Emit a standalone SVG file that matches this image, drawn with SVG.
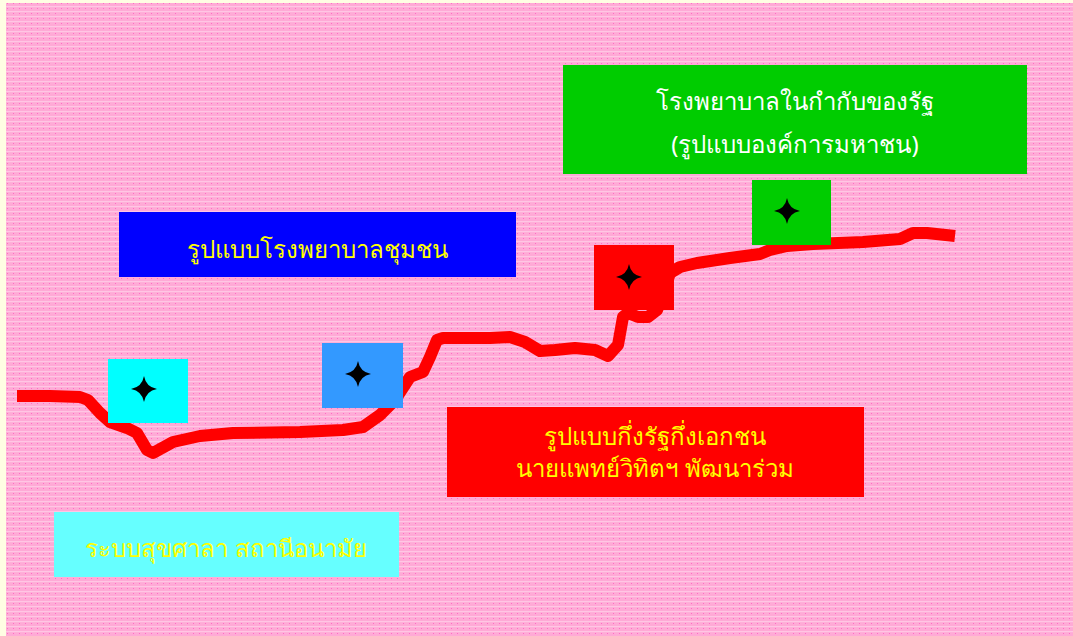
<svg xmlns="http://www.w3.org/2000/svg" width="1073" height="636" viewBox="0 0 1073 636">
<defs>
<pattern id="bg" x="0" y="0" width="6" height="5" patternUnits="userSpaceOnUse">
<rect width="6" height="5" fill="#ffaad6"/>
<rect y="1" width="6" height="1.2" fill="#ffc6e4"/>
<rect x="1" y="3" width="1" height="1" fill="#ff6cc6"/>
</pattern>
<path id="star" d="M0,-13 Q2,-2 13,0 Q2,2 0,13 Q-2,2 -13,0 Q-2,-2 0,-13 Z"/>
</defs>
<style>
.lbl{font-family:"Noto Sans","Liberation Sans",sans-serif;font-size:24px;text-anchor:middle;fill:#ffff00}
.wht{fill:#ffffff}
.star{fill:#000000}
</style>
<rect width="1073" height="636" fill="#fffde3"/>
<rect x="6" y="3" width="1067" height="633" fill="url(#bg)"/>
<g id="connectors">
<path d="M17,396 L50,396 L80,397 L88,400 L100,413 L110,422 L127,428 L137,433 L147,450 L153,453 L173,442 L200,436 L233,433 L300,432 L343,430 L363,427 L380,415 L395,400 L410,377 L423,372 L430,357 L437,340 L443,338 L490,338 L510,337 L525,342 L540,351 L555,350 L575,348 L595,350 L608,356 L618,345 L623,317 L628,313 L638,317 L648,317 L657,310 L662,297 L670,273 L680,267 L697,263 L730,258 L760,254 L770,250 L787,246 L813,244 L863,242 L900,239 L913,233 L927,233 L955,236" fill="none" stroke="#ff0000" stroke-width="12" stroke-linejoin="round"/>
</g>
<g id="m1"><rect x="108" y="359" width="80" height="64" fill="#00ffff"/><use href="#star" x="144" y="389" class="star"/></g>
<g id="m2"><rect x="322" y="343" width="81" height="65" fill="#3399ff"/><use href="#star" x="358" y="374" class="star"/></g>
<g id="m3"><rect x="594" y="245" width="80" height="65" fill="#ff0000"/><use href="#star" x="629" y="277" class="star"/></g>
<g id="m4"><rect x="752" y="180" width="79" height="65" fill="#00cc00"/><use href="#star" x="787" y="211" class="star"/></g>
<g id="n-green"><rect x="563" y="65" width="464" height="109" fill="#00cc00"/><text class="lbl wht" x="795" y="110">โรงพยาบาลในกำกับของรัฐ</text><text class="lbl wht" x="795" y="153">(รูปแบบองค์การมหาชน)</text></g>
<g id="n-blue"><rect x="119" y="212" width="397" height="65" fill="#0000ff"/><text class="lbl" x="317" y="258">รูปแบบโรงพยาบาลชุมชน</text></g>
<g id="n-red"><rect x="447" y="407" width="417" height="90" fill="#ff0000"/><text class="lbl" x="655" y="445">รูปแบบกึ่งรัฐกึ่งเอกชน</text><text class="lbl" x="655" y="477">นายแพทย์วิทิตฯ พัฒนาร่วม</text></g>
<g id="n-cyan"><rect x="54" y="512" width="345" height="65" fill="#66ffff"/><text class="lbl" x="226" y="557">ระบบสุขศาลา สถานีอนามัย</text></g>
</svg>
